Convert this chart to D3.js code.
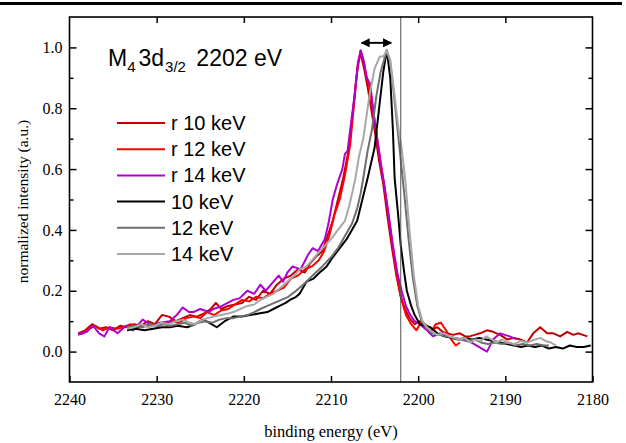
<!DOCTYPE html>
<html>
<head>
<meta charset="utf-8">
<script src="https://cdn.jsdelivr.net/npm/d3@7"></script>
<style>
  body { margin: 0; background: #fff; }
  svg { display: block; }
  .tick text { font-family: "Liberation Serif", serif; font-size: 16px; fill: #000; }
</style>
</head>
<body>
<svg id="chart" width="626" height="443"></svg>
<script>
// spectra: [binding energy (eV), normalized intensity]
var r10keV = [[2239.0,0.06],[2238.2,0.07],[2237.4,0.09],[2236.6,0.075],[2235.8,0.08],[2235.0,0.07],[2234.2,0.085],[2233.4,0.08],[2232.6,0.09],[2231.8,0.085],[2231.0,0.1],[2230.2,0.09],[2229.4,0.12],[2228.6,0.115],[2227.8,0.1],[2227.0,0.11],[2226.2,0.12],[2225.4,0.115],[2224.6,0.125],[2223.8,0.14],[2223.2,0.16],[2222.6,0.14],[2221.8,0.15],[2221.0,0.155],[2220.2,0.16],[2219.4,0.18],[2218.6,0.17],[2217.8,0.2],[2217.0,0.19],[2216.2,0.22],[2215.4,0.24],[2214.6,0.25],[2213.8,0.27],[2213.0,0.26],[2212.4,0.29],[2211.8,0.31],[2211.0,0.33],[2210.4,0.38],[2209.8,0.43],[2209.2,0.5],[2208.6,0.57],[2208.0,0.66],[2207.6,0.76],[2207.2,0.87],[2206.9,0.95],[2206.6,0.98],[2206.2,0.93],[2205.8,0.87],[2205.4,0.8],[2205.0,0.73],[2204.5,0.63],[2204.0,0.55],[2203.5,0.44],[2203.0,0.34],[2202.5,0.25],[2202.0,0.18],[2201.5,0.14],[2201.0,0.11],[2200.4,0.09],[2199.8,0.1],[2199.2,0.08],[2198.6,0.07],[2197.8,0.08],[2197.2,0.065],[2196.7,0.06],[2196.0,0.055],[2195.2,0.06],[2194.6,0.05],[2194.1,0.05],[2193.5,0.055],[2192.9,0.06],[2192.1,0.07],[2191.4,0.065],[2190.6,0.055],[2189.8,0.04],[2189.0,0.045],[2188.3,0.04],[2187.5,0.03],[2186.8,0.06],[2186.0,0.08],[2185.2,0.06],[2184.5,0.06],[2183.7,0.05],[2182.9,0.065],[2182.2,0.055],[2181.6,0.06],[2181.1,0.055],[2180.6,0.05]];

var r12keV = [[2239.0,0.056],[2238.4,0.06],[2237.8,0.075],[2237.0,0.085],[2236.2,0.07],[2235.4,0.08],[2234.6,0.075],[2233.8,0.08],[2233.0,0.09],[2232.2,0.08],[2231.4,0.085],[2230.6,0.09],[2229.8,0.085],[2229.0,0.095],[2228.2,0.1],[2227.4,0.095],[2226.6,0.11],[2225.8,0.115],[2225.0,0.11],[2224.2,0.13],[2223.4,0.12],[2222.6,0.135],[2221.8,0.14],[2221.0,0.155],[2220.2,0.17],[2219.4,0.165],[2218.6,0.18],[2217.8,0.175],[2217.0,0.19],[2216.2,0.2],[2215.4,0.21],[2214.6,0.24],[2213.8,0.25],[2213.0,0.27],[2212.2,0.28],[2211.4,0.3],[2210.8,0.33],[2210.2,0.38],[2209.6,0.45],[2209.0,0.5],[2208.4,0.58],[2207.8,0.68],[2207.4,0.8],[2207.0,0.92],[2206.6,0.99],[2206.3,0.96],[2205.9,0.9],[2205.5,0.86],[2205.1,0.78],[2204.7,0.7],[2204.3,0.62],[2203.9,0.55],[2203.4,0.45],[2202.9,0.34],[2202.4,0.24],[2201.9,0.17],[2201.4,0.12],[2200.8,0.09],[2200.2,0.07],[2199.6,0.1],[2199.0,0.085],[2198.6,0.06],[2198.0,0.09],[2197.4,0.095],[2196.8,0.07],[2196.2,0.04],[2195.7,0.02],[2195.2,0.03]];

var r14keV = [[2239.0,0.056],[2238.0,0.065],[2237.3,0.085],[2236.6,0.06],[2236.0,0.05],[2235.4,0.08],[2234.5,0.06],[2233.5,0.085],[2232.7,0.07],[2231.6,0.105],[2230.5,0.085],[2229.6,0.095],[2228.5,0.1],[2227.7,0.12],[2227.0,0.145],[2226.3,0.13],[2225.8,0.13],[2225.0,0.14],[2224.0,0.13],[2223.5,0.14],[2222.5,0.15],[2221.2,0.17],[2220.5,0.175],[2219.6,0.2],[2218.8,0.19],[2218.1,0.22],[2217.5,0.2],[2216.6,0.23],[2216.0,0.25],[2215.5,0.23],[2215.0,0.26],[2214.4,0.28],[2213.5,0.27],[2212.6,0.32],[2212.1,0.34],[2211.5,0.33],[2210.7,0.37],[2210.3,0.42],[2209.8,0.5],[2209.3,0.55],[2208.7,0.6],[2208.4,0.65],[2208.1,0.66],[2207.8,0.73],[2207.3,0.84],[2206.9,0.95],[2206.6,0.99],[2206.2,0.95],[2205.9,0.9],[2205.5,0.88],[2205.1,0.78],[2204.7,0.7],[2204.2,0.6],[2203.9,0.55],[2203.4,0.45],[2202.9,0.35],[2202.4,0.26],[2201.9,0.2],[2201.4,0.15],[2200.9,0.12],[2200.4,0.1],[2199.8,0.09],[2199.0,0.07],[2198.3,0.05],[2197.5,0.06],[2196.7,0.05],[2195.8,0.045],[2194.9,0.04],[2193.9,0.03],[2192.9,0.013],[2192.1,0.0],[2191.4,0.04],[2190.6,0.06],[2189.5,0.05],[2188.7,0.04]];

var keV10 = [[2233.4,0.07],[2232.4,0.075],[2231.4,0.07],[2230.4,0.075],[2229.4,0.08],[2228.5,0.08],[2227.6,0.085],[2226.5,0.08],[2225.6,0.09],[2224.7,0.105],[2224.0,0.095],[2223.1,0.08],[2222.2,0.1],[2221.2,0.115],[2220.2,0.115],[2219.3,0.12],[2218.3,0.125],[2217.3,0.13],[2216.6,0.14],[2215.9,0.15],[2215.2,0.16],[2214.7,0.17],[2214.0,0.18],[2213.6,0.19],[2212.8,0.23],[2212.0,0.24],[2211.3,0.26],[2210.5,0.28],[2209.8,0.31],[2209.0,0.34],[2208.2,0.37],[2207.6,0.4],[2207.0,0.43],[2206.4,0.5],[2205.8,0.57],[2205.0,0.67],[2204.4,0.82],[2204.0,0.92],[2203.6,0.99],[2203.2,0.9],[2202.9,0.73],[2202.7,0.57],[2202.3,0.45],[2202.0,0.35],[2201.6,0.26],[2201.3,0.2],[2200.8,0.15],[2200.4,0.12],[2199.8,0.09],[2199.2,0.085],[2198.6,0.08],[2197.8,0.06],[2197.0,0.05],[2196.2,0.045],[2195.4,0.04],[2194.6,0.045],[2193.8,0.04],[2193.0,0.045],[2192.2,0.04],[2191.4,0.035],[2190.6,0.03],[2189.8,0.025],[2189.0,0.02],[2188.2,0.015],[2187.4,0.02],[2186.6,0.015],[2185.8,0.02],[2185.0,0.01],[2184.2,0.015],[2183.4,0.01],[2182.6,0.02],[2181.8,0.015],[2181.0,0.015],[2180.2,0.02]];

var keV12 = [[2233.4,0.08],[2232.4,0.085],[2231.6,0.08],[2230.8,0.09],[2230.0,0.085],[2229.2,0.09],[2228.4,0.085],[2227.6,0.09],[2226.8,0.095],[2226.0,0.085],[2225.2,0.095],[2224.4,0.1],[2223.6,0.095],[2222.8,0.105],[2222.0,0.11],[2221.2,0.11],[2220.4,0.115],[2219.6,0.12],[2218.8,0.13],[2218.1,0.14],[2217.3,0.15],[2216.5,0.16],[2215.7,0.17],[2214.9,0.18],[2214.0,0.2],[2213.2,0.22],[2212.1,0.25],[2211.0,0.28],[2210.0,0.31],[2209.2,0.34],[2208.4,0.38],[2207.6,0.42],[2207.0,0.47],[2206.6,0.52],[2206.3,0.57],[2205.8,0.66],[2205.3,0.73],[2204.8,0.84],[2204.3,0.92],[2203.9,0.96],[2203.6,0.99],[2203.2,0.95],[2202.8,0.85],[2202.4,0.74],[2202.0,0.63],[2201.6,0.52],[2201.1,0.37],[2200.6,0.24],[2200.1,0.15],[2199.6,0.1],[2199.0,0.075],[2198.4,0.06],[2197.6,0.055],[2196.8,0.05],[2196.0,0.045],[2195.2,0.04],[2194.4,0.035],[2193.6,0.04],[2192.8,0.03],[2192.0,0.025],[2191.2,0.03],[2190.4,0.025],[2189.6,0.03],[2188.8,0.02],[2188.0,0.025],[2187.2,0.02],[2186.4,0.025],[2185.6,0.02],[2185.0,0.02]];

var keV14 = [[2233.4,0.075],[2232.6,0.08],[2231.8,0.09],[2231.0,0.08],[2230.2,0.085],[2229.4,0.095],[2228.6,0.09],[2227.8,0.1],[2227.0,0.105],[2226.2,0.095],[2225.6,0.09],[2225.0,0.1],[2224.2,0.11],[2223.5,0.115],[2222.6,0.12],[2221.8,0.125],[2221.2,0.13],[2220.4,0.14],[2219.6,0.15],[2218.8,0.155],[2218.1,0.17],[2217.4,0.18],[2216.6,0.19],[2215.8,0.21],[2215.0,0.23],[2214.2,0.25],[2213.6,0.27],[2212.8,0.28],[2212.2,0.3],[2211.6,0.32],[2210.8,0.345],[2210.0,0.37],[2209.2,0.4],[2208.4,0.43],[2207.9,0.48],[2207.5,0.53],[2207.2,0.57],[2206.8,0.64],[2206.3,0.7],[2205.6,0.84],[2205.0,0.93],[2204.4,0.97],[2204.0,0.97],[2203.6,0.99],[2203.2,0.96],[2202.7,0.84],[2202.2,0.72],[2201.9,0.67],[2201.5,0.57],[2201.0,0.4],[2200.5,0.25],[2200.0,0.15],[2199.5,0.1],[2199.0,0.08],[2198.4,0.065],[2197.8,0.055],[2197.0,0.06],[2196.4,0.05],[2195.8,0.045],[2195.2,0.04],[2194.6,0.045],[2194.0,0.03],[2193.4,0.04],[2192.8,0.035],[2192.2,0.05],[2191.6,0.04],[2191.0,0.03],[2190.4,0.04],[2189.8,0.03],[2189.0,0.025],[2188.2,0.035],[2187.4,0.03],[2186.6,0.04],[2186.0,0.045],[2185.4,0.035],[2184.8,0.03],[2184.2,0.02]];

var seriesNames = ["r 10 keV", "r 12 keV", "r 14 keV", "10 keV", "12 keV", "14 keV"];
var seriesData = [r10keV, r12keV, r14keV, keV10, keV12, keV14];
var seriesColors = ["#c00000", "#ff0000", "#b000d0", "#000000", "#6e6e6e", "#a8a8a8"];

var xTicks = [2240, 2230, 2220, 2210, 2200, 2190, 2180];
var yTicks = [0.0, 0.2, 0.4, 0.6, 0.8, 1.0];
var yMinorTicks = [0.1, 0.3, 0.5, 0.7, 0.9];
var markerEnergy = 2202;        // vertical line
var shiftArrow = [2206.5, 2203.1]; // peak shift arrow

var svg = d3.select("#chart");
var plotLeft = 69.5, plotRight = 592.5, plotTop = 17, plotBottom = 382;

var xScale = d3.scaleLinear().domain([2240, 2180]).range([plotLeft, plotRight]);
var yScale = d3.scaleLinear().domain([-0.1, 1.1]).range([plotBottom, plotTop]);

// thick rule across the top of the page
svg.append("line")
    .attr("x1", 0).attr("x2", 622).attr("y1", 3.5).attr("y2", 3.5)
    .attr("stroke", "#000").attr("stroke-width", 3);

// curves
var line = d3.line()
    .x(function(d) { return xScale(d[0]); })
    .y(function(d) { return yScale(d[1]); });

var plot = svg.append("g");
seriesData.forEach(function(s, i) {
    plot.append("path")
        .datum(s)
        .attr("d", line)
        .attr("fill", "none")
        .attr("stroke", seriesColors[i])
        .attr("stroke-width", 2)
        .attr("stroke-linejoin", "round");
});

// vertical reference line
svg.append("line")
    .attr("x1", xScale(markerEnergy)).attr("x2", xScale(markerEnergy))
    .attr("y1", plotTop).attr("y2", plotBottom)
    .attr("stroke", "#555").attr("stroke-width", 1);

// double arrow
var defs = svg.append("defs");
defs.append("marker")
    .attr("id", "head")
    .attr("viewBox", "0 0 10 10")
    .attr("refX", 9).attr("refY", 5)
    .attr("markerWidth", 4.5).attr("markerHeight", 4.5)
    .attr("orient", "auto-start-reverse")
    .append("path").attr("d", "M0,0 L10,5 L0,10 z").attr("fill", "#000");
svg.append("line")
    .attr("x1", xScale(shiftArrow[0])).attr("x2", xScale(shiftArrow[1]))
    .attr("y1", yScale(1.015)).attr("y2", yScale(1.015))
    .attr("stroke", "#000").attr("stroke-width", 2)
    .attr("marker-start", "url(#head)").attr("marker-end", "url(#head)");

// axes
svg.append("g")
    .attr("transform", "translate(0," + plotBottom + ")")
    .call(d3.axisBottom(xScale).tickValues(xTicks).tickFormat(d3.format("d"))
        .tickSizeInner(-6).tickSizeOuter(0).tickPadding(12));
svg.append("g")
    .attr("transform", "translate(0," + plotTop + ")")
    .call(d3.axisTop(xScale).tickValues(xTicks.slice(1, -1)).tickFormat("")
        .tickSizeInner(-6).tickSizeOuter(0));
svg.append("g")
    .attr("transform", "translate(" + plotLeft + ",0)")
    .call(d3.axisLeft(yScale).tickValues(yTicks).tickFormat(d3.format(".1f"))
        .tickSizeInner(-7).tickSizeOuter(0).tickPadding(7));
svg.append("g")
    .attr("transform", "translate(" + plotLeft + ",0)")
    .call(d3.axisLeft(yScale).tickValues(yMinorTicks).tickFormat("")
        .tickSizeInner(-4).tickSizeOuter(0));
svg.append("g")
    .attr("transform", "translate(" + plotRight + ",0)")
    .call(d3.axisRight(yScale).tickValues(yTicks).tickFormat("")
        .tickSizeInner(-7).tickSizeOuter(0));
svg.append("g")
    .attr("transform", "translate(" + plotRight + ",0)")
    .call(d3.axisRight(yScale).tickValues(yMinorTicks).tickFormat("")
        .tickSizeInner(-4).tickSizeOuter(0));
svg.selectAll(".domain").remove();
svg.selectAll(".tick line").attr("stroke", "#000").attr("stroke-width", 1.5);

// frame
svg.append("rect")
    .attr("x", plotLeft).attr("y", plotTop)
    .attr("width", plotRight - plotLeft).attr("height", plotBottom - plotTop)
    .attr("fill", "none").attr("stroke", "#000").attr("stroke-width", 1.6);

// axis titles
svg.append("text")
    .attr("x", 331).attr("y", 437)
    .attr("text-anchor", "middle")
    .style("font-family", "Liberation Serif, serif").style("font-size", "16.5px")
    .text("binding energy (eV)");
svg.append("text")
    .attr("transform", "translate(28," + ((plotTop + plotBottom) / 2 + 2) + ") rotate(-90)")
    .attr("text-anchor", "middle")
    .style("font-family", "Liberation Serif, serif").style("font-size", "15.5px")
    .text("normalized intensity (a.u.)");

// title inside the plot
var title = svg.append("text")
    .attr("x", 108).attr("y", 66)
    .style("font-family", "Liberation Sans, Arial, sans-serif").style("font-size", "23px");
title.append("tspan").text("M");
title.append("tspan").attr("dy", 6).style("font-size", "15px").text("4");
title.append("tspan").attr("dy", -6).attr("dx", 3).text("3d");
title.append("tspan").attr("dy", 6).attr("dx", 1).style("font-size", "15px").text("3/2");
title.append("tspan").attr("dy", -6).attr("dx", 4).text(" 2202 eV");

// legend
var legend = svg.append("g");
seriesNames.forEach(function(name, i) {
    var y = 123 + i * 26.2;
    legend.append("line")
        .attr("x1", 117).attr("x2", 165).attr("y1", y).attr("y2", y)
        .attr("stroke", seriesColors[i]).attr("stroke-width", 2);
    legend.append("text")
        .attr("x", 171).attr("y", y)
        .attr("dy", "0.35em")
        .style("font-family", "Liberation Sans, Arial, sans-serif").style("font-size", "20px")
        .text(name);
});
</script>
</body>
</html>
